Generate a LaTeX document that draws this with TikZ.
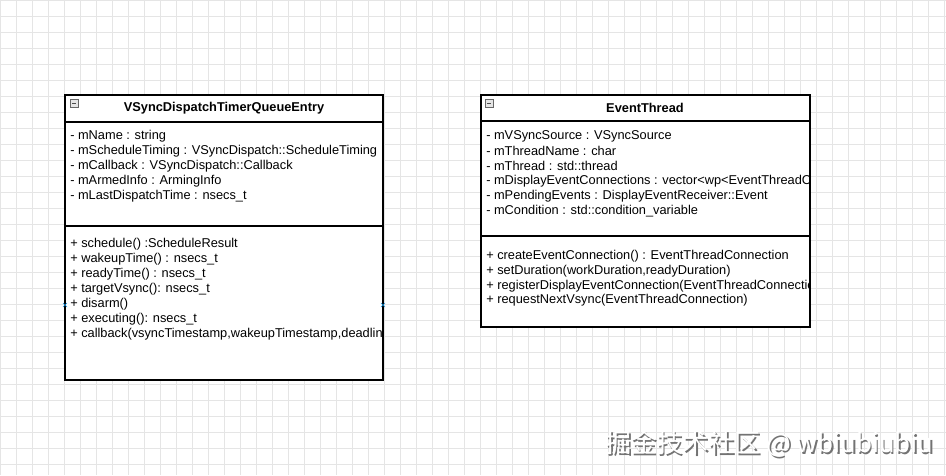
\documentclass[tikz,border=0pt]{standalone}
\usepackage{fontspec}
\setmainfont{Liberation Sans}
\newfontfamily\cjk{Noto Sans CJK SC}
\begin{document}
\begin{tikzpicture}[x=0.75pt,y=-0.75pt,
  txt/.style={anchor=west,inner sep=0pt,font=\fontsize{9.6}{10}\selectfont},
  hdr/.style={inner sep=0pt,font=\bfseries\fontsize{9.6}{10}\selectfont},
  box/.style={draw=black,line width=0.9pt},
  xmark/.style={draw=cyan!70!blue,line width=0.5pt}]
\useasboundingbox (0,0) rectangle (946,475);
\fill[white] (0,0) rectangle (946,475);
\foreach \i in {0,16,...,944} \draw[black!10,line width=0.4pt] (\i,0) -- (\i,475);
\foreach \j in {0,16,...,474} \draw[black!10,line width=0.4pt] (0,\j) -- (946,\j);
% Box 1
\fill[white] (65,95) rectangle (383,380);
\begin{scope}
\clip (65,95) rectangle (381,380);
\node[txt] (a1) at (70,136) {- mName : string};
\node[txt] (a2) at (70,151) {- mScheduleTiming : VSyncDispatch::ScheduleTiming};
\node[txt] (a3) at (70,166) {- mCallback : VSyncDispatch::Callback};
\node[txt] (a4) at (70,181) {- mArmedInfo : ArmingInfo};
\node[txt] (a5) at (70,196) {- mLastDispatchTime : nsecs\_t};
\node[txt] (m1) at (70,244) {+ schedule() :ScheduleResult};
\node[txt] (m2) at (70,259) {+ wakeupTime() : nsecs\_t};
\node[txt] (m3) at (70,274) {+ readyTime() : nsecs\_t};
\node[txt] (m4) at (70,289) {+ targetVsync(): nsecs\_t};
\node[txt] (m5) at (70,304) {+ disarm()};
\node[txt] (m6) at (70,319) {+ executing(): nsecs\_t};
\node[txt] (m7) at (70,334) {+ callback(vsyncTimestamp,wakeupTimestamp,deadlineTimestamp)};
\end{scope}
\node[hdr] (h1) at (224,108) {VSyncDispatchTimerQueueEntry};
\draw[box] (65,95) rectangle (383,380);
\draw[box] (65,122) -- (383,122);
\draw[box] (65,226) -- (383,226);
\draw[black!60,fill=black!10,line width=0.4pt] (70,99) rectangle (78,107);
\draw[black!70,line width=0.6pt] (72,103) -- (76,103);
\draw[xmark] (63,303) -- (67,307) (63,307) -- (67,303);
\draw[xmark] (381,303) -- (385,307) (381,307) -- (385,303);
% Box 2
\fill[white] (481,95) rectangle (810,327);
\begin{scope}
\clip (481,95) rectangle (808,327);
\node[txt] (b1) at (486,136) {- mVSyncSource : VSyncSource};
\node[txt] (b2) at (486,151) {- mThreadName : char};
\node[txt] (b3) at (486,166) {- mThread : std::thread};
\node[txt] (b4) at (486,181) {- mDisplayEventConnections : vector<wp<EventThreadConnection>{}>};
\node[txt] (b5) at (486,196) {- mPendingEvents : DisplayEventReceiver::Event};
\node[txt] (b6) at (486,211) {- mCondition : std::condition\_variable};
\node[txt] (n1) at (486,256) {+ createEventConnection() : EventThreadConnection};
\node[txt] (n2) at (486,271) {+ setDuration(workDuration,readyDuration)};
\node[txt] (n3) at (486,286) {+ registerDisplayEventConnection(EventThreadConnection)};
\node[txt] (n4) at (486,300) {+ requestNextVsync(EventThreadConnection)};
\end{scope}
\node[hdr] (h2) at (645,108) {EventThread};
\draw[box] (481,95) rectangle (810,327);
\draw[box] (481,121) -- (810,121);
\draw[box] (481,236) -- (810,236);
\draw[black!60,fill=black!10,line width=0.4pt] (485,99) rectangle (493,107);
\draw[black!70,line width=0.6pt] (487,103) -- (491,103);
% watermark
\node[anchor=west,inner sep=0pt,text=black!55,font=\cjk\fontsize{19.4}{20}\selectfont] (w0) at (606.8,445.8) {掘金技术社区 @ wbiubiubiu};
\node[anchor=west,inner sep=0pt,text=white,font=\cjk\fontsize{19.4}{20}\selectfont] (w) at (605,444) {掘金技术社区 @ wbiubiubiu};
\end{tikzpicture}
\end{document}
